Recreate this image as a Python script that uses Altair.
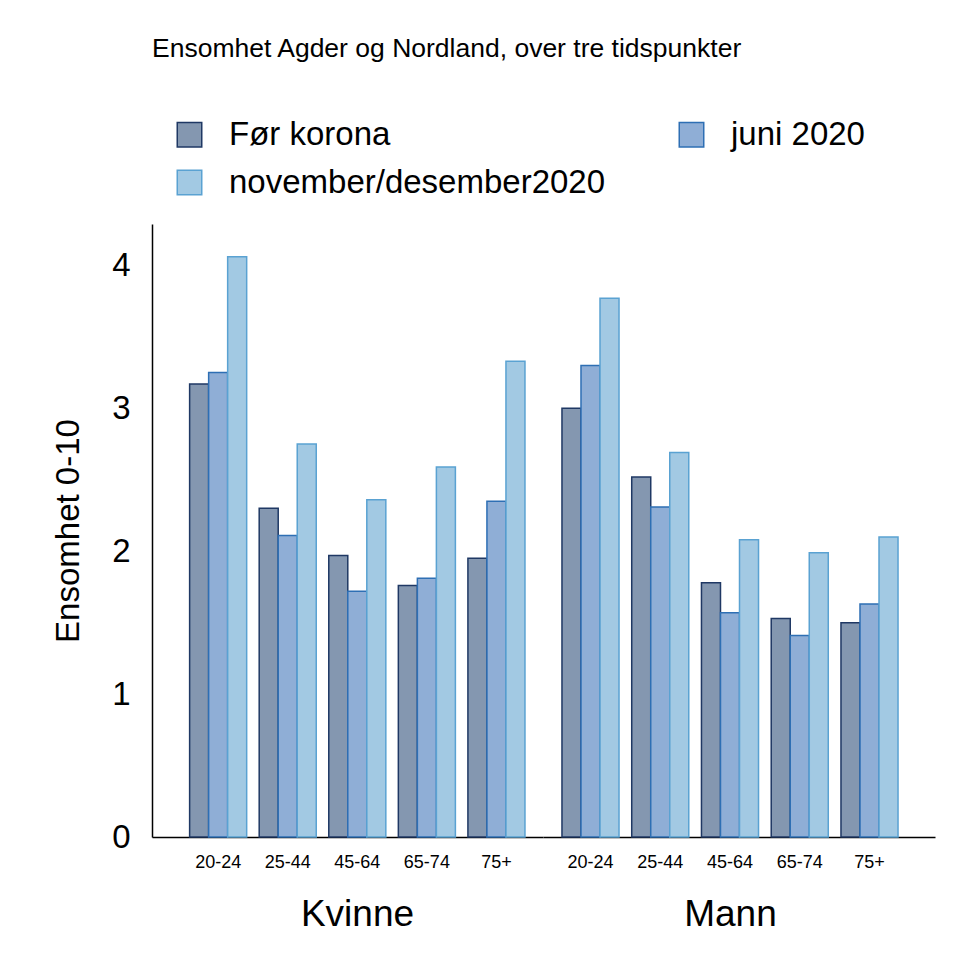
import pandas as pd
import altair as alt

ages = ["20-24", "25-44", "45-64", "65-74", "75+"]
sexes = ["Kvinne", "Mann"]
periods = ["Før korona", "juni 2020", "november/desember2020"]

# values per period, Kvinne ages then Mann ages
for_korona = [3.17, 2.30, 1.97, 1.76, 1.95, 3.00, 2.52, 1.78, 1.53, 1.50]
juni_2020 = [3.25, 2.11, 1.72, 1.81, 2.35, 3.30, 2.31, 1.57, 1.41, 1.63]
nov_des_2020 = [4.06, 2.75, 2.36, 2.59, 3.33, 3.77, 2.69, 2.08, 1.99, 2.10]

fill_colors = ["#8497b0", "#8faed6", "#a2c9e3"]
stroke_colors = ["#1f3864", "#2e6fb4", "#5aa2d2"]

rows = []
for period, vals in zip(periods, [for_korona, juni_2020, nov_des_2020]):
    i = 0
    for sex in sexes:
        for age in ages:
            rows.append({"sex": sex, "age": age, "period": period, "value": vals[i]})
            i += 1
df = pd.DataFrame(rows)

font = "Liberation Sans"


def panel(sex, align, width, title_x, show_y):
    if show_y:
        y_axis = alt.Axis(title="Ensomhet 0-10", values=[0, 1, 2, 3, 4],
                          titleFontSize=33, titleFont=font, titleFontWeight="normal",
                          titleColor="#000", titlePadding=26,
                          labelFontSize=33, labelFont=font, labelColor="#000",
                          labelPadding=22, ticks=False, grid=False,
                          domainColor="#000", domainWidth=1.5)
    else:
        y_axis = None
    legend = alt.Legend(title=None, orient="none", direction="horizontal",
                        columns=2, legendX=21, legendY=-106,
                        labelFontSize=33, labelFont=font, labelColor="#000",
                        symbolType="square", symbolSize=600,
                        symbolStrokeWidth=1.5, columnPadding=69,
                        rowPadding=14, labelOffset=23, labelLimit=600)
    return (
        alt.Chart(df)
        .transform_filter(alt.datum.sex == sex)
        .mark_bar(strokeWidth=1.5)
        .encode(
            x=alt.X("age:N", sort=ages,
                    scale=alt.Scale(paddingInner=0.18, paddingOuter=0.4, align=align),
                    axis=alt.Axis(title=sex, titleFontSize=37, titleFont=font,
                                  titleFontWeight="normal", titleColor="#000",
                                  titleX=title_x, titlePadding=25,
                                  labelAngle=0, labelFontSize=18,
                                  labelFont=font, labelColor="#000", ticks=False,
                                  domainColor="#000", domainWidth=1.5, labelPadding=16)),
            xOffset=alt.XOffset("period:N", sort=periods,
                                scale=alt.Scale(paddingInner=0, paddingOuter=0)),
            y=alt.Y("value:Q",
                    scale=alt.Scale(domain=[0, 4.29], nice=False),
                    axis=y_axis),
            color=alt.Color("period:N", sort=periods,
                            scale=alt.Scale(domain=periods, range=fill_colors),
                            legend=legend),
            stroke=alt.Stroke("period:N", sort=periods,
                              scale=alt.Scale(domain=periods, range=stroke_colors),
                              legend=None),
        )
        .properties(width=width, height=613)
    )


kvinne = panel("Kvinne", 0.676, 391, 205, True)
mann = panel("Mann", 0.34, 392, 187, False)

chart = (
    alt.hconcat(kvinne, mann, spacing=0)
    .properties(
        title=alt.TitleParams(
            "Ensomhet Agder og Nordland, over tre tidspunkter",
            anchor="start", frame="group", fontSize=26.5, font=font,
            fontWeight="normal", color="#000", offset=56),
        padding={"left": 44, "top": 27, "right": 5, "bottom": 5},
    )
    .configure_view(stroke=None)
)

chart.save("out.html", embed_options={"renderer": "svg", "actions": False})
